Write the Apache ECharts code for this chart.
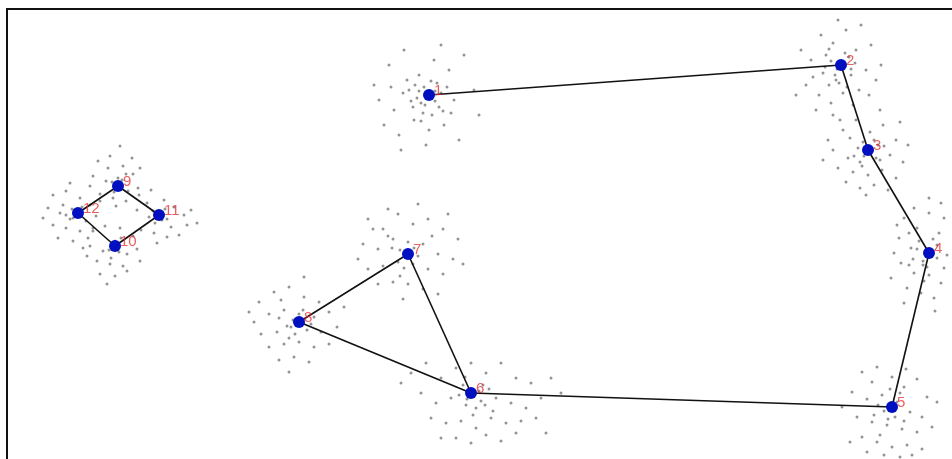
<!DOCTYPE html>
<html><head><meta charset="utf-8">
<script src="https://cdn.jsdelivr.net/npm/echarts@6/dist/echarts.min.js"></script>
<style>html,body{margin:0;padding:0;background:#fff}#c{width:952px;height:459px}</style>
</head><body><div id="c"></div>
<script>
// cluster centres (pixel-like data units, y grows downward)
const nodeNames = ['1','2','3','4','5','6','7','8','9','10','11','12'];
const nodeX = [429, 841, 868, 929, 892, 471, 408, 299, 118, 115, 159, 78];
const nodeY = [95, 65, 150, 253, 407, 393, 254, 322, 186, 246, 215, 213];
const edges = [[1,2],[2,3],[3,4],[4,5],[5,6],[6,7],[7,8],[8,6],[12,9],[9,11],[11,10],[10,12]];

// scattered members around each centre (offsets)
const noise1 = [[-40,-30],[-25,-45],[-10,-20],[5,-35],[20,-25],[35,-40],[-50,5],[-35,15],[-20,-5],[-8,8],[10,12],[25,5],[45,-5],[-45,30],[-30,40],[-15,25],[0,35],[15,30],[30,45],[-5,-8],[8,-12],[-12,3],[3,20],[-22,-15],[18,-8],[-3,50],[12,-50],[-55,-10],[50,20],[-28,55],[-16,12],[6,-4],[-6,18],[22,18],[-38,-8],[-10,-4],[-4,10],[6,6],[12,-2],[-14,-10],[2,-14],[-18,6],[14,16],[-8,26],[-26,-2]];
const noise2 = [[-20,-30],[-8,-22],[5,-35],[15,-15],[-30,-5],[-18,8],[-5,15],[10,10],[25,5],[-35,20],[-22,30],[-10,38],[2,28],[18,25],[-15,-10],[8,-8],[-40,-15],[30,-20],[-25,45],[-8,50],[12,40],[35,15],[-3,-45],[20,-40],[-12,20],[6,22],[-28,12],[28,30],[-45,30],[40,0],[-4,4],[14,-2],[-10,-4],[-6,10],[4,-12],[10,4],[-16,2],[-2,18],[-12,-16]];
const noise3 = [[-25,-20],[-12,-30],[2,-18],[15,-25],[28,-10],[-35,0],[-20,8],[-8,12],[8,8],[22,5],[35,12],[-30,18],[-15,22],[0,25],[14,20],[28,28],[-40,-10],[-5,-8],[10,-5],[-22,32],[-8,38],[6,35],[20,40],[-45,10],[40,-5],[-18,-12],[12,-40],[-2,45],[32,-28],[-28,-30],[-10,-2],[-4,6],[6,-10],[-14,6],[12,10],[-6,16],[16,-4]];
const noise4 = [[-25,-35],[-12,-25],[0,-40],[10,-20],[-30,-15],[-18,-5],[-6,8],[8,5],[15,15],[-28,10],[-15,20],[0,22],[12,30],[-22,35],[-8,40],[5,45],[-35,0],[-20,-20],[8,-8],[-10,-12],[15,-35],[-38,25],[-25,50],[0,-55],[12,-50],[-15,-45],[-5,28],[18,2],[-32,-28],[6,58],[-12,-4],[-6,12],[-16,6],[4,-14],[-2,14],[-20,12]];
const noise5 = [[-30,-35],[-15,-40],[0,-30],[12,-20],[25,-28],[35,-10],[-40,-15],[-25,-8],[-10,-12],[5,-5],[18,5],[30,10],[-35,10],[-20,15],[-5,18],[10,22],[25,25],[40,20],[-30,30],[-15,35],[0,40],[15,38],[30,42],[-42,35],[-8,48],[8,50],[-25,45],[20,48],[45,-5],[-50,0],[-12,28],[3,10],[-20,-25],[14,-38],[-8,4],[-4,12],[8,-14],[-14,-2],[12,14],[-2,-18],[-18,8]];
const noise6 = [[-60,-20],[-45,-30],[-30,-15],[-15,-25],[0,-30],[15,-20],[30,-30],[45,-15],[60,-10],[80,-15],[-50,0],[-35,10],[-20,5],[-5,12],[10,8],[25,5],[40,10],[55,15],[70,5],[90,0],[-40,25],[-25,30],[-10,28],[5,35],[20,25],[35,30],[50,28],[65,25],[-15,45],[0,50],[15,42],[30,48],[45,40],[-30,45],[5,15],[-8,-8],[12,-8],[22,18],[-70,-10],[75,40],[-4,6],[8,-2],[-12,2],[14,12],[2,22],[-6,-16],[18,-4]];
const noise7 = [[-40,-35],[-25,-25],[-10,-40],[5,-30],[20,-35],[35,-25],[50,-15],[-45,-10],[-30,-5],[-15,-15],[0,-12],[15,-10],[30,0],[45,5],[-40,15],[-25,12],[-10,8],[5,10],[20,15],[35,20],[-30,30],[-15,28],[0,30],[15,35],[30,40],[-5,45],[10,-50],[-20,-45],[55,10],[-50,5],[-8,22],[24,-18],[40,-40],[-35,-25],[-8,-4],[6,-6],[-16,-6],[10,2],[-4,14],[-20,-18]];
const noise8 = [[-40,-20],[-25,-30],[-10,-35],[5,-25],[20,-20],[-45,0],[-30,-8],[-15,-12],[0,-8],[15,-5],[30,-10],[-38,12],[-22,10],[-8,5],[8,8],[22,10],[38,5],[-30,25],[-15,22],[0,20],[15,25],[30,22],[-20,38],[-5,35],[10,40],[-10,50],[-50,-10],[45,-15],[-18,-22],[5,-45],[-6,-2],[-12,4],[4,-12],[-4,12],[12,2],[-20,-4],[-10,16]];
const noise9 = [[-20,-25],[-8,-30],[5,-20],[15,-12],[-25,-10],[-12,-5],[0,-8],[10,5],[20,2],[-18,8],[-5,12],[8,15],[-28,0],[2,-40],[-10,-18],[14,-28],[-2,20],[22,-18],[-6,-4],[4,-6],[-4,6],[8,-12]];
const noise10 = [[-22,-15],[-10,-20],[5,-18],[18,-10],[-25,0],[-12,5],[0,-5],[12,8],[22,3],[-18,15],[-5,18],[8,20],[-15,28],[0,30],[12,25],[-8,38],[-28,10],[25,15],[-6,4],[4,6],[-4,12],[6,-8]];
const noise11 = [[-20,-20],[-8,-25],[5,-15],[15,-8],[25,0],[-22,-5],[-10,2],[3,5],[12,12],[28,10],[-18,15],[-5,18],[8,22],[20,20],[32,-5],[-12,-12],[38,8],[-2,28],[-6,-4],[6,-6],[-4,8],[8,4]];
const noise12 = [[-25,-18],[-12,-22],[2,-15],[12,-8],[-30,-5],[-18,0],[-5,5],[8,8],[18,3],[-25,12],[-12,15],[2,18],[15,15],[-20,25],[-5,28],[10,25],[-35,5],[-8,-30],[5,35],[-15,-8],[22,-12],[-6,-4],[-8,6],[4,-6],[-12,2]];

const noiseAll = [noise1,noise2,noise3,noise4,noise5,noise6,noise7,noise8,noise9,noise10,noise11,noise12];

const noiseData = [];
noiseAll.forEach((arr, i) => arr.forEach(o => noiseData.push([nodeX[i] + o[0], nodeY[i] + o[1]])));
const nodeData = nodeNames.map((n, i) => ({ value: [nodeX[i], nodeY[i]], name: n }));
const lineData = edges.map(e => ({ coords: [[nodeX[e[0]-1], nodeY[e[0]-1]], [nodeX[e[1]-1], nodeY[e[1]-1]]] }));

const chart = echarts.init(document.getElementById('c'), null, { renderer: 'canvas' });
chart.setOption({
  animation: false,
  backgroundColor: '#fff',
  grid: { left: 0, right: 0, top: 0, bottom: 0 },
  xAxis: { type: 'value', min: 0, max: 952, show: false },
  yAxis: { type: 'value', min: 0, max: 459, inverse: true, show: false },
  graphic: [{
    type: 'polyline', z: 100,
    shape: { points: [[7, 460], [7, 9], [953, 9]] },
    style: { stroke: '#111', lineWidth: 2, fill: null }
  }],
  series: [
    { type: 'scatter', data: noiseData, symbolSize: 3, z: 1,
      itemStyle: { color: '#666', opacity: 0.7 }, silent: true },
    { type: 'lines', coordinateSystem: 'cartesian2d', data: lineData, z: 2,
      lineStyle: { color: '#111', width: 1.6, opacity: 1 }, silent: true },
    { type: 'scatter', data: nodeData, symbolSize: 12, z: 3,
      itemStyle: { color: '#0010c0', opacity: 1 },
      label: { show: true, position: 'right', distance: 0, offset: [-1, -4],
        formatter: p => p.name, color: 'rgba(225,40,40,0.75)', fontSize: 15,
        fontFamily: 'Liberation Sans, Arial, sans-serif' } }
  ]
});
</script></body></html>
